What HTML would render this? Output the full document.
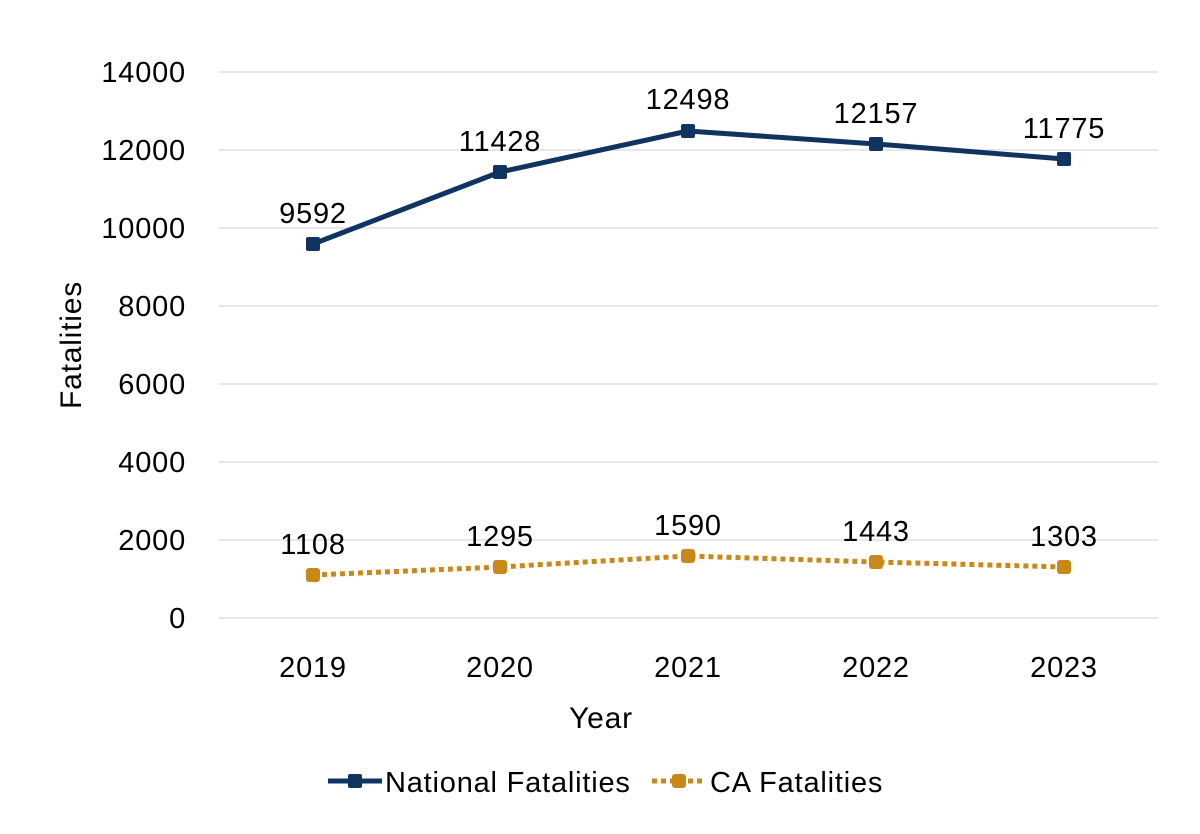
<!DOCTYPE html>
<html><head><meta charset="utf-8"><style>
html,body{margin:0;padding:0;background:#fff;}
svg{display:block;font-family:"Liberation Sans",sans-serif;}
svg text{letter-spacing:0.8px;}
</style></head><body>
<svg width="1200" height="834" viewBox="0 0 1200 834" xmlns="http://www.w3.org/2000/svg">
<g stroke="#d9d9d9" stroke-width="1.3">
<line x1="219" y1="72" x2="1158" y2="72"/>
<line x1="219" y1="150" x2="1158" y2="150"/>
<line x1="219" y1="228" x2="1158" y2="228"/>
<line x1="219" y1="306" x2="1158" y2="306"/>
<line x1="219" y1="384" x2="1158" y2="384"/>
<line x1="219" y1="462" x2="1158" y2="462"/>
<line x1="219" y1="540" x2="1158" y2="540"/>
<line x1="219" y1="618" x2="1158" y2="618"/>
</g>
<g font-size="29" fill="#000" text-anchor="end">
<text x="186" y="82">14000</text>
<text x="186" y="160">12000</text>
<text x="186" y="238">10000</text>
<text x="186" y="316">8000</text>
<text x="186" y="394">6000</text>
<text x="186" y="472">4000</text>
<text x="186" y="550">2000</text>
<text x="186" y="628">0</text>
</g>
<g font-size="29" fill="#000" text-anchor="middle">
<text x="313" y="677">2019</text>
<text x="500" y="677">2020</text>
<text x="688" y="677">2021</text>
<text x="876" y="677">2022</text>
<text x="1064" y="677">2023</text>
<text x="601" y="728" font-size="30">Year</text>
<text transform="translate(81,345) rotate(-90)" font-size="30">Fatalities</text>
</g>
<polyline fill="none" stroke="#0f3460" stroke-width="5" stroke-linejoin="round" points="313,244 500,172 688,131 876,144 1064,159"/>
<g fill="#0f3460">
<rect x="306" y="237" width="14" height="14" rx="2"/>
<rect x="493" y="165" width="14" height="14" rx="2"/>
<rect x="681" y="124" width="14" height="14" rx="2"/>
<rect x="869" y="137" width="14" height="14" rx="2"/>
<rect x="1057" y="152" width="14" height="14" rx="2"/>
</g>
<polyline fill="none" stroke="#c8891a" stroke-width="5" stroke-dasharray="5,4" points="313,575 500,567 688,556 876,562 1064,567"/>
<g fill="#c8891a">
<rect x="306" y="568" width="14" height="14" rx="3"/>
<rect x="493" y="560" width="14" height="14" rx="3"/>
<rect x="681" y="549" width="14" height="14" rx="3"/>
<rect x="869" y="555" width="14" height="14" rx="3"/>
<rect x="1057" y="560" width="14" height="14" rx="3"/>
</g>
<g font-size="29" fill="#000" text-anchor="middle">
<text x="313" y="223">9592</text>
<text x="500" y="151">11428</text>
<text x="688" y="109">12498</text>
<text x="876" y="123">12157</text>
<text x="1064" y="138">11775</text>
<text x="313" y="554">1108</text>
<text x="500" y="546">1295</text>
<text x="688" y="535">1590</text>
<text x="876" y="541">1443</text>
<text x="1064" y="546">1303</text>
</g>
<line x1="328" y1="781" x2="382" y2="781" stroke="#0f3460" stroke-width="5"/>
<rect x="348" y="774" width="14" height="14" rx="2" fill="#0f3460"/>
<text x="385" y="792" font-size="29">National Fatalities</text>
<line x1="652" y1="781" x2="706" y2="781" stroke="#c8891a" stroke-width="5" stroke-dasharray="5,4"/>
<rect x="672" y="774" width="14" height="14" rx="3" fill="#c8891a"/>
<text x="710" y="792" font-size="29">CA Fatalities</text>
</svg>
</body></html>
